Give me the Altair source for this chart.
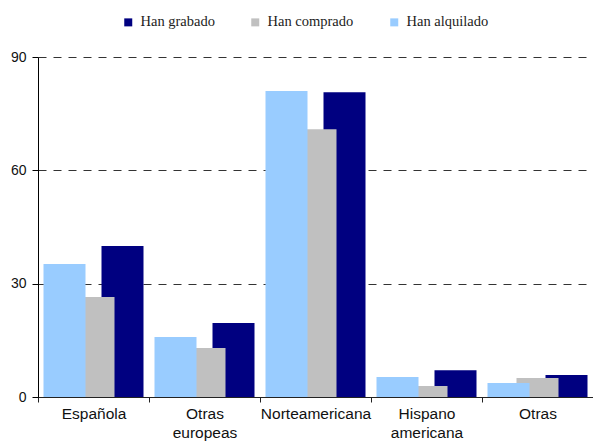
import altair as alt
import pandas as pd

categories = ["Española", "Otras europeas", "Norteamericana", "Hispano americana", "Otras"]
series = ["Han grabado", "Han comprado", "Han alquilado"]
colors = ["#000080", "#C0C0C0", "#99CCFF"]
grabado = [40.0, 19.6, 80.7, 7.1, 5.8]
comprado = [26.5, 13.0, 70.9, 2.9, 5.0]
alquilado = [35.2, 15.9, 81.0, 5.3, 3.7]
y_ticks = [0, 30, 60, 90]

rows = []
for name, vals in zip(series, [grabado, comprado, alquilado]):
    for c, v in zip(categories, vals):
        rows.append({"categoria": c, "serie": name, "valor": v})
df = pd.DataFrame(rows)

x_enc = alt.X(
    "categoria:N",
    sort=categories,
    scale=alt.Scale(paddingInner=0, paddingOuter=0),
    axis=alt.Axis(
        title=None, labelAngle=0, tickBand="extent",
        labelExpr="split(datum.label, ' ')",
        labelFont="Liberation Sans", labelFontSize=15.5, labelColor="#111",
        labelLineHeight=19, labelPadding=4, tickSize=5,
        domainColor="#222", tickColor="#222", grid=False,
    ),
)
y_enc = alt.Y(
    "valor:Q",
    scale=alt.Scale(domain=[0, 90], nice=False),
    axis=alt.Axis(
        title=None, values=y_ticks, grid=True, gridDash=[8, 7],
        gridColor="#333", gridWidth=1, domainColor="black", tickColor="black",
        tickSize=6, labelFont="Liberation Sans", labelFontSize=14,
        labelColor="#111", labelPadding=6,
    ),
)
color_enc = alt.Color(
    "serie:N",
    scale=alt.Scale(domain=series, range=colors),
    legend=alt.Legend(
        title=None, orient="none", legendX=83, legendY=-42,
        direction="horizontal", symbolType="square", symbolSize=64,
        symbolStrokeWidth=0, labelFont="Liberation Serif", labelFontSize=14.5,
        labelColor="#222", columnPadding=33, labelOffset=5, padding=0,
    ),
)

offsets = {"Han grabado": 29, "Han comprado": 0, "Han alquilado": -29}
layers = []
for name in series:
    layers.append(
        alt.Chart(df)
        .transform_filter(alt.datum.serie == name)
        .mark_bar(width=42, xOffset=offsets[name])
        .encode(x=x_enc, y=y_enc, color=color_enc)
    )

chart = (
    alt.layer(*layers)
    .properties(
        width=555, height=340,
        autosize=alt.AutoSizeParams(type="none"),
        padding={"left": 30, "top": 49, "right": 0, "bottom": 52},
    )
    .configure_view(stroke=None)
)

chart.save("out.html", embed_options={"renderer": "svg", "actions": False})
